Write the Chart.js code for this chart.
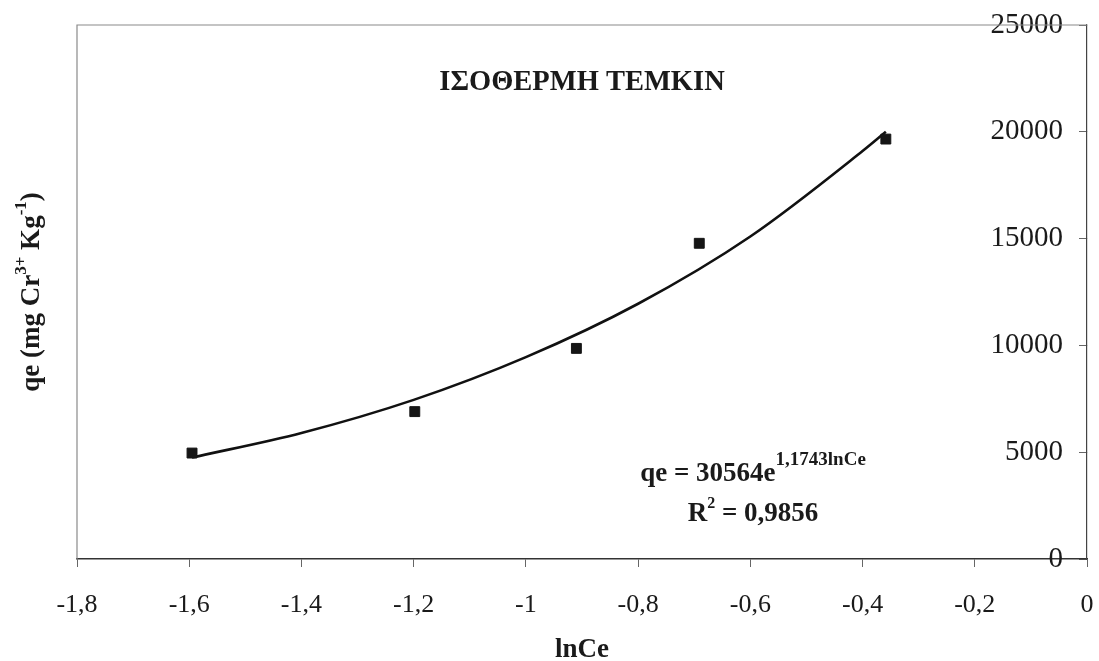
<!DOCTYPE html>
<html>
<head>
<meta charset="utf-8">
<script src="https://cdn.jsdelivr.net/npm/chart.js@4/dist/chart.umd.min.js"></script>
<style>
  html, body { margin: 0; padding: 0; background: #ffffff; }
  #wrap { width: 1099px; height: 661px; }
</style>
</head>
<body>
<div id="wrap"><canvas id="c" width="1099" height="661"></canvas></div>
<script>
// Measured points: lnCe against qe (mg Cr3+ / Kg)
const lnCe = [-1.595, -1.198, -0.910, -0.691, -0.3585];
const qe = [4960, 6900, 9860, 14780, 19660];

// Exponential trend line qe = 30564 e^(1,1743 lnCe), sampled along its length
const fitLnCe = [-1.595, -1.4, -1.2, -1.0, -0.8, -0.6, -0.4, -0.3585];
const fitQe = [4750, 5900, 7450, 9450, 11950, 15100, 19100, 20000];

// Axis ticks
const xTicks = [-1.8, -1.6, -1.4, -1.2, -1.0, -0.8, -0.6, -0.4, -0.2, 0];
const yTicks = [0, 5000, 10000, 15000, 20000, 25000];

const chartTitle = 'ΙΣΟΘΕΡΜΗ ΤΕΜΚΙΝ';
const xTitle = 'lnCe';

const SERIF = '"Liberation Serif", "Times New Roman", serif';
const INK = '#1a1a1a';

function fmtComma(v) {
  const r = Math.round(v * 10) / 10;
  return String(r).replace('.', ',');
}

function runsWidth(ctx, runs) {
  let w = 0;
  for (const r of runs) { ctx.font = r.font; w += ctx.measureText(r.t).width; }
  return w;
}
function drawRuns(ctx, runs, x, y) {
  for (const r of runs) {
    ctx.font = r.font;
    ctx.fillText(r.t, x, y + (r.dy || 0));
    x += ctx.measureText(r.t).width;
  }
}

const bold = s => 'bold ' + s + 'px ' + SERIF;

// keep the plot frame fixed: no extra room for overhanging tick labels
function clearPadding(s) {
  s.paddingTop = 0; s.paddingBottom = 0; s.paddingLeft = 0; s.paddingRight = 0;
}

const decor = {
  id: 'decor',
  beforeDatasetsDraw(chart) {
    const { ctx, chartArea: a } = chart;
    ctx.save();
    ctx.strokeStyle = '#8a8a8a';
    ctx.lineWidth = 1.2;
    ctx.beginPath();
    ctx.moveTo(a.left, a.bottom);
    ctx.lineTo(a.left, a.top);
    ctx.lineTo(a.right, a.top);
    ctx.stroke();
    ctx.restore();
  },
  afterDraw(chart) {
    const { ctx, chartArea: a } = chart;
    ctx.save();
    ctx.fillStyle = INK;
    ctx.textBaseline = 'middle';
    ctx.textAlign = 'center';
    ctx.font = bold(28.5);
    ctx.fillText(chartTitle, (a.left + a.right) / 2, 83);

    ctx.textAlign = 'left';
    ctx.textBaseline = 'alphabetic';

    // trend equation
    const eq = [
      { t: 'qe = 30564e', font: bold(27) },
      { t: '1,1743lnCe', font: bold(19), dy: -16 }
    ];
    const r2 = [
      { t: 'R', font: bold(27) },
      { t: '2', font: bold(16), dy: -13 },
      { t: ' = 0,9856', font: bold(27) }
    ];
    const cx = 753;
    drawRuns(ctx, eq, cx - runsWidth(ctx, eq) / 2, 481);
    drawRuns(ctx, r2, cx - runsWidth(ctx, r2) / 2, 521);

    // vertical axis title
    const yt = [
      { t: 'qe (mg Cr', font: bold(27) },
      { t: '3+', font: bold(17), dy: -13 },
      { t: ' Kg', font: bold(27) },
      { t: '-1', font: bold(17), dy: -13 },
      { t: ')', font: bold(27) }
    ];
    ctx.translate(39, (a.top + a.bottom) / 2);
    ctx.rotate(-Math.PI / 2);
    drawRuns(ctx, yt, -runsWidth(ctx, yt) / 2, 0);
    ctx.restore();
  }
};

new Chart(document.getElementById('c'), {
  type: 'scatter',
  data: {
    datasets: [
      {
        type: 'scatter',
        data: lnCe.map((x, i) => ({ x, y: qe[i] })),
        pointStyle: 'rect',
        pointRadius: 7,
        backgroundColor: '#151515',
        borderColor: '#151515',
        borderWidth: 1,
        order: 0
      },
      {
        type: 'line',
        data: fitLnCe.map((x, i) => ({ x, y: fitQe[i] })),
        borderColor: '#111111',
        borderWidth: 2.6,
        pointRadius: 0,
        fill: false,
        cubicInterpolationMode: 'monotone',
        order: 1
      }
    ]
  },
  options: {
    responsive: false,
    animation: false,
    events: [],
    layout: { padding: { left: 77, top: 25, right: 0, bottom: 0 } },
    plugins: {
      legend: { display: false },
      tooltip: { enabled: false },
      title: { display: false }
    },
    scales: {
      x: {
        type: 'linear',
        position: 'bottom',
        min: -1.8,
        max: 0,
        afterBuildTicks: s => { s.ticks = xTicks.map(v => ({ value: v })); },
        afterFit: s => { s.height = 102; clearPadding(s); },
        grid: { drawOnChartArea: false, drawTicks: true, tickLength: 8, color: '#666', lineWidth: 1 },
        border: { display: true, color: '#333', width: 1.5 },
        ticks: {
          font: { family: SERIF, size: 26 },
          color: INK,
          padding: 23,
          maxRotation: 0,
          autoSkip: false,
          callback: v => fmtComma(v)
        },
        title: {
          display: true,
          text: xTitle,
          color: INK,
          font: { family: SERIF, size: 27, weight: 'bold', lineHeight: 1 },
          padding: { top: 0, bottom: -3 }
        }
      },
      y: {
        type: 'linear',
        position: 'right',
        min: 0,
        max: 25000,
        afterBuildTicks: s => { s.ticks = yTicks.map(v => ({ value: v })); },
        afterFit: s => { s.width = 12; clearPadding(s); },
        grid: { drawOnChartArea: false, drawTicks: true, tickLength: -8, color: '#666', lineWidth: 1 },
        border: { display: true, color: '#444', width: 1.2 },
        ticks: {
          mirror: true,
          font: { family: SERIF, size: 29 },
          color: INK,
          padding: -24,
          autoSkip: false,
          callback: v => String(v)
        }
      }
    }
  },
  plugins: [decor]
});
</script>
</body>
</html>
